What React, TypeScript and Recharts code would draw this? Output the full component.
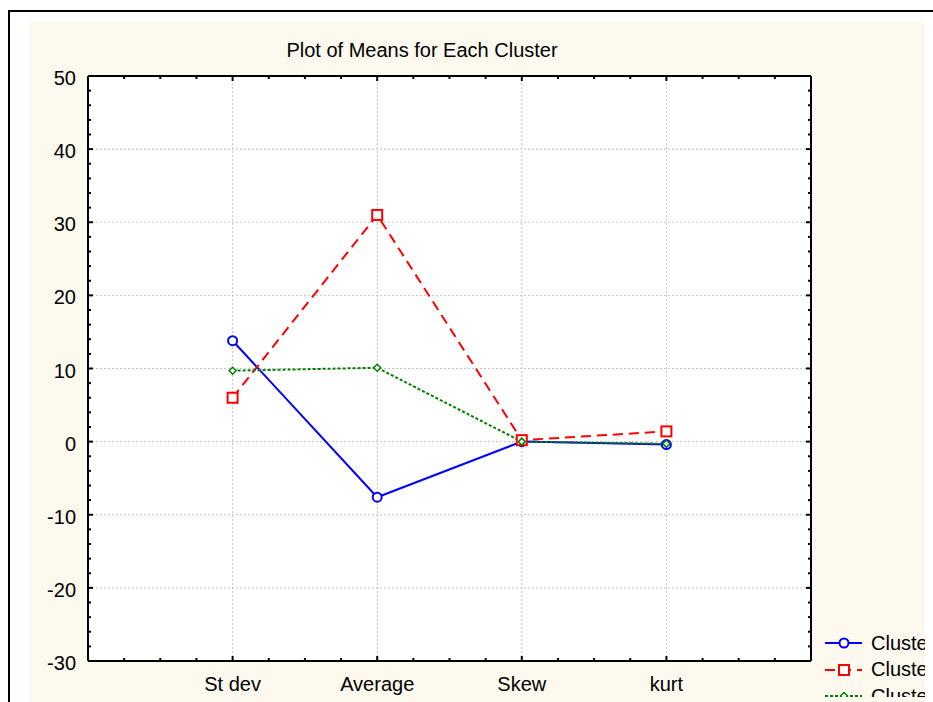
import React from 'react';
import {
  LineChart,
  Line,
  XAxis,
  YAxis,
  CartesianGrid,
  ReferenceLine,
  Legend,
} from 'recharts';

const categories = ['St dev', 'Average', 'Skew', 'kurt'];
const cluster1 = [13.8, -7.6, 0.0, -0.4];
const cluster2 = [6.0, 31.0, 0.2, 1.4];
const cluster3 = [9.7, 10.1, 0.0, -0.3];
const yMajorTicks = [-30, -20, -10, 0, 10, 20, 30, 40, 50];
const yGridValues = [-20, -10, 0, 10, 20, 30, 40];
const xCategoryPositions = [1, 2, 3, 4];

// minor ticks: every 2 units on y, every quarter band on x
const yTicks = Array.from({ length: 41 }, (_, i) => -30 + i * 2);
const xTicks = Array.from({ length: 21 }, (_, i) => i * 0.25);

const data = categories.map((name, i) => ({
  x: xCategoryPositions[i],
  name,
  c1: cluster1[i],
  c2: cluster2[i],
  c3: cluster3[i],
}));

const FONT = '"Liberation Sans", Arial, sans-serif';
const CREAM = '#FDF9EF';
const BLUE = '#0000FF';
const RED = '#FF0000';
const GREEN = '#008000';

const series = [
  { key: 'c1', name: 'Cluster 1', color: BLUE, dash: undefined, shape: 'circle' },
  { key: 'c2', name: 'Cluster 2', color: RED, dash: '10 6', shape: 'square' },
  { key: 'c3', name: 'Cluster 3', color: GREEN, dash: '3 2', shape: 'diamond' },
];

const Marker = ({ cx, cy, shape, color }: any) => {
  if (cx == null || cy == null) return null;
  if (shape === 'circle') {
    return <circle cx={cx} cy={cy} r={4.5} fill="#fff" stroke={color} strokeWidth={2} />;
  }
  if (shape === 'square') {
    return <rect x={cx - 5} y={cy - 5} width={10} height={10} fill="#fff" stroke={color} strokeWidth={2} />;
  }
  return (
    <polygon
      points={`${cx},${cy - 3.5} ${cx + 3.5},${cy} ${cx},${cy + 3.5} ${cx - 3.5},${cy}`}
      fill="#fff"
      stroke={color}
      strokeWidth={1.5}
    />
  );
};

const isMajorX = (v: number) => Number.isInteger(v);
const isMajorY = (v: number) => v % 10 === 0;

const BottomTick = ({ x, y, payload }: any) => {
  const v = payload.value;
  const idx = xCategoryPositions.indexOf(v);
  return (
    <g>
      <line x1={x} x2={x} y1={y} y2={y - (isMajorX(v) ? 5 : 3)} stroke="#000" strokeWidth={2} />
      {idx >= 0 && (
        <text x={x} y={y + 30} textAnchor="middle" fontSize={20} fontFamily={FONT} fill="#000">
          {categories[idx]}
        </text>
      )}
    </g>
  );
};

const TopTick = ({ x, y, payload }: any) => (
  <line x1={x} x2={x} y1={y} y2={y + (isMajorX(payload.value) ? 5 : 3)} stroke="#000" strokeWidth={2} />
);

const LeftTick = ({ x, y, payload }: any) => {
  const v = payload.value;
  const major = isMajorY(v);
  return (
    <g>
      <line x1={x} x2={x + (major ? 5 : 3)} y1={y} y2={y} stroke="#000" strokeWidth={2} />
      {yMajorTicks.includes(v) && (
        <text x={x - 12} y={y + 9} textAnchor="end" fontSize={20} fontFamily={FONT} fill="#000">
          {v}
        </text>
      )}
    </g>
  );
};

const RightTick = ({ x, y, payload }: any) => (
  <line x1={x} x2={x - (isMajorY(payload.value) ? 5 : 3)} y1={y} y2={y} stroke="#000" strokeWidth={2} />
);

const LegendContent = () => (
  <div style={{ fontFamily: FONT, fontSize: 20, color: '#000' }}>
    {series.map((s) => (
      <div key={s.key} style={{ display: 'flex', alignItems: 'center', height: 26.5, whiteSpace: 'nowrap' }}>
        <svg width={46} height={14} style={{ flex: 'none' }}>
          <line x1={0} x2={37} y1={7} y2={7} stroke={s.color} strokeWidth={2} strokeDasharray={s.dash} />
          <Marker cx={19} cy={7} shape={s.shape} color={s.color} />
        </svg>
        <span>{s.name}</span>
      </div>
    ))}
  </div>
);

export default function App() {
  return (
    <div
      style={{
        position: 'absolute',
        left: 0,
        top: 0,
        width: 933,
        height: 702,
        background: '#fff',
        overflow: 'hidden',
        fontFamily: FONT,
      }}
    >
      <div
        style={{
          position: 'absolute',
          left: 8,
          top: 10,
          width: 940,
          height: 700,
          borderTop: '2px solid #000',
          borderLeft: '2px solid #000',
        }}
      />
      <div style={{ position: 'absolute', left: 29, top: 22, width: 896, height: 690, background: CREAM }} />
      <svg width={933} height={702} style={{ position: 'absolute', left: 0, top: 0 }}>
        <text x={422} y={57} textAnchor="middle" fontSize={20} fontFamily={FONT} fill="#000">
          Plot of Means for Each Cluster
        </text>
      </svg>
      <div style={{ position: 'absolute', left: 0, top: 0 }}>
        <LineChart width={933} height={702} data={data} margin={{ top: 0, right: 121, bottom: 0, left: 0 }}>
          <CartesianGrid fill="#fff" fillOpacity={1} horizontal={false} vertical={false} />
          <XAxis
            dataKey="x"
            type="number"
            domain={[0, 5]}
            ticks={xTicks}
            interval={0}
            height={41}
            tickSize={0}
            tickMargin={0}
            tickLine={false}
            axisLine={{ stroke: '#000', strokeWidth: 2 }}
            tick={<BottomTick />}
          />
          <XAxis
            xAxisId="top"
            dataKey="x"
            orientation="top"
            type="number"
            domain={[0, 5]}
            ticks={xTicks}
            interval={0}
            height={76}
            tickSize={0}
            tickMargin={0}
            tickLine={false}
            axisLine={{ stroke: '#000', strokeWidth: 2 }}
            tick={<TopTick />}
          />
          <YAxis
            type="number"
            domain={[-30, 50]}
            ticks={yTicks}
            interval={0}
            width={88}
            tickSize={0}
            tickMargin={0}
            tickLine={false}
            axisLine={{ stroke: '#000', strokeWidth: 2 }}
            tick={<LeftTick />}
          />
          <YAxis
            yAxisId="right"
            orientation="right"
            type="number"
            domain={[-30, 50]}
            ticks={yTicks}
            interval={0}
            width={1}
            tickSize={0}
            tickMargin={0}
            tickLine={false}
            axisLine={{ stroke: '#000', strokeWidth: 2 }}
            tick={<RightTick />}
          />
          {yGridValues.map((v) => (
            <ReferenceLine key={`gy${v}`} y={v} stroke="#C4C4C4" strokeDasharray="2 2" strokeWidth={1} />
          ))}
          {xCategoryPositions.map((v) => (
            <ReferenceLine key={`gx${v}`} x={v} stroke="#C4C4C4" strokeDasharray="2 2" strokeWidth={1} />
          ))}
          {/* invisible series so the frame axes (top/right) get their own scales */}
          <Line
            xAxisId="top"
            yAxisId="right"
            dataKey="c1"
            stroke="none"
            dot={false}
            activeDot={false}
            legendType="none"
            isAnimationActive={false}
          />
          {series.map((s) => (
            <Line
              key={s.key}
              type="linear"
              dataKey={s.key}
              name={s.name}
              stroke={s.color}
              strokeWidth={2}
              strokeDasharray={s.dash}
              dot={(p: any) => <Marker key={`${s.key}-${p.index}`} cx={p.cx} cy={p.cy} shape={s.shape} color={s.color} />}
              activeDot={false}
              isAnimationActive={false}
            />
          ))}
          <Legend
            layout="vertical"
            align="center"
            verticalAlign="middle"
            content={<LegendContent />}
            wrapperStyle={{ left: 825, top: 630, width: 100, height: 67, overflow: 'hidden' }}
          />
        </LineChart>
      </div>
    </div>
  );
}
